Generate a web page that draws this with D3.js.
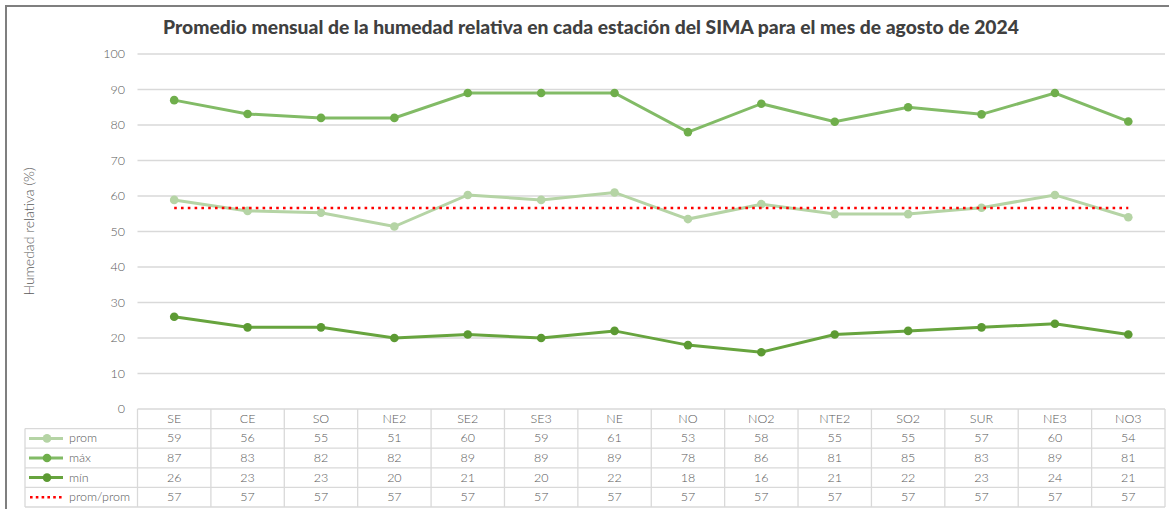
<!DOCTYPE html>
<html>
<head>
<meta charset="utf-8">
<script src="https://cdn.jsdelivr.net/npm/d3@7"></script>
<style>
  body { margin: 0; background: #fff; }
  svg { font-family: Lato, "Open Sans", sans-serif; }
</style>
</head>
<body>
<svg id="chart" width="1169" height="509"></svg>
<script>
// estaciones y valores
const estaciones = ["SE", "CE", "SO", "NE2", "SE2", "SE3", "NE", "NO", "NO2", "NTE2", "SO2", "SUR", "NE3", "NO3"];
const prom = [58.9, 55.8, 55.3, 51.4, 60.3, 58.9, 61.0, 53.5, 57.7, 54.9, 54.9, 56.7, 60.3, 54.0];
const maxi = [87, 83.1, 82, 82, 89, 89, 89, 78, 86, 80.9, 85, 83, 89, 81];
const mini = [26, 23, 23, 20, 21, 20, 22, 18, 16, 21, 22, 23, 24, 21];
const promProm = estaciones.map(() => 56.6);
// lo que dice la tabla (redondeado)
const tablaProm = [59, 56, 55, 51, 60, 59, 61, 53, 58, 55, 55, 57, 60, 54];
const tablaMax = [87, 83, 82, 82, 89, 89, 89, 78, 86, 81, 85, 83, 89, 81];
const tablaMin = [26, 23, 23, 20, 21, 20, 22, 18, 16, 21, 22, 23, 24, 21];
const tablaPP = estaciones.map(() => 57);
const yTicks = [0, 10, 20, 30, 40, 50, 60, 70, 80, 90, 100];

const svg = d3.select("#chart");
const largeur = 1169, hauteur = 509;
const mLeft = 137.5, mRight = 1165, mTop = 54, mBottom = 409;
const rowH = 19.6, legendLeft = 25;

// marco
svg.append("path")
    .attr("d", `M6,${hauteur} V6 H${largeur}`)
    .attr("fill", "none").attr("stroke", "#7f7f7f").attr("stroke-width", 2);

// titulo
svg.append("text")
    .attr("x", 591).attr("y", 34)
    .attr("text-anchor", "middle")
    .style("font-size", "19.3px").style("font-weight", 900).style("fill", "#404040")
    .text("Promedio mensual de la humedad relativa en cada estación del SIMA para el mes de agosto de 2024");

const x = d3.scaleBand().domain(estaciones).range([mLeft, mRight]);
const y = d3.scaleLinear().domain([0, 100]).range([mBottom, mTop]);
const cx = (d, i) => x(estaciones[i]) + x.bandwidth() / 2;

// rejilla
svg.append("g").selectAll("line").data(yTicks.filter(t => t > 0)).enter().append("line")
    .attr("x1", mLeft).attr("x2", mRight)
    .attr("y1", d => y(d)).attr("y2", d => y(d))
    .attr("stroke", "#d9d9d9").attr("stroke-width", 1.3);

svg.append("g").selectAll("text").data(yTicks).enter().append("text")
    .attr("x", 125).attr("y", d => y(d) + 4)
    .attr("text-anchor", "end")
    .style("font-size", "12.5px").style("font-weight", 300).style("fill", "#595959")
    .text(d => d);

svg.append("text")
    .attr("transform", `translate(34,${(mTop + mBottom) / 2}) rotate(-90)`)
    .attr("text-anchor", "middle")
    .style("font-size", "14px").style("font-weight", 300).style("fill", "#595959")
    .text("Humedad relativa (%)");

// series
const series = [
    { nombre: "prom", valores: prom, tabla: tablaProm, color: "#b5d4a5", marker: "#b5d4a5" },
    { nombre: "máx", valores: maxi, tabla: tablaMax, color: "#82bb66", marker: "#6fae4b" },
    { nombre: "mín", valores: mini, tabla: tablaMin, color: "#67a43e", marker: "#5c9a33" },
    { nombre: "prom/prom", valores: promProm, tabla: tablaPP, color: "#ff0000", dotted: true }
];

const line = d3.line().x(cx).y(d => y(d));

series.forEach(s => {
    const g = svg.append("g");
    if (s.dotted) {
        g.append("path").attr("d", line(s.valores))
            .attr("fill", "none").attr("stroke", s.color)
            .attr("stroke-width", 2.6).attr("stroke-dasharray", "2.6,4.2");
    } else {
        g.append("path").attr("d", line(s.valores))
            .attr("fill", "none").attr("stroke", s.color).attr("stroke-width", 3);
        g.selectAll("circle").data(s.valores).enter().append("circle")
            .attr("cx", cx).attr("cy", d => y(d)).attr("r", 4.3)
            .attr("fill", s.marker);
    }
});

// tabla de datos
const tabla = svg.append("g");
const gris = "#d9d9d9";
const nRows = series.length + 1;
// horizontales
for (let r = 0; r <= nRows; r++) {
    tabla.append("line")
        .attr("x1", r === 0 ? mLeft : legendLeft).attr("x2", mRight)
        .attr("y1", mBottom + r * rowH).attr("y2", mBottom + r * rowH)
        .attr("stroke", gris).attr("stroke-width", 1.3);
}
// verticales
tabla.append("line").attr("x1", legendLeft).attr("x2", legendLeft)
    .attr("y1", mBottom + rowH).attr("y2", mBottom + nRows * rowH)
    .attr("stroke", gris).attr("stroke-width", 1.3);
estaciones.concat(["_fin"]).forEach((d, i) => {
    const xx = i < estaciones.length ? x(d) : mRight;
    tabla.append("line").attr("x1", xx).attr("x2", xx)
        .attr("y1", mBottom).attr("y2", mBottom + nRows * rowH)
        .attr("stroke", gris).attr("stroke-width", 1.3);
});

const txtStyle = sel => sel.style("font-size", "12.5px").style("font-weight", 300).style("fill", "#595959");

tabla.selectAll(".cat").data(estaciones).enter().append("text")
    .attr("class", "cat")
    .attr("x", d => x(d) + x.bandwidth() / 2).attr("y", mBottom + rowH / 2 + 4)
    .attr("text-anchor", "middle")
    .call(txtStyle).text(d => d);

series.forEach((s, r) => {
    const yy = mBottom + (r + 1) * rowH + rowH / 2;
    tabla.selectAll(".v" + r).data(s.tabla).enter().append("text")
        .attr("x", cx).attr("y", yy + 4)
        .attr("text-anchor", "middle")
        .call(txtStyle).text(d => d);
    // leyenda
    if (s.dotted) {
        tabla.append("line").attr("x1", 30).attr("x2", 63).attr("y1", yy).attr("y2", yy)
            .attr("stroke", s.color).attr("stroke-width", 2.6).attr("stroke-dasharray", "2.6,3.2");
    } else {
        tabla.append("line").attr("x1", 29).attr("x2", 63).attr("y1", yy).attr("y2", yy)
            .attr("stroke", s.color).attr("stroke-width", 3);
        tabla.append("circle").attr("cx", 47).attr("cy", yy).attr("r", 4.3).attr("fill", s.marker);
    }
    tabla.append("text").attr("x", 69).attr("y", yy + 4)
        .call(txtStyle).text(s.nombre);
});
</script>
</body>
</html>
